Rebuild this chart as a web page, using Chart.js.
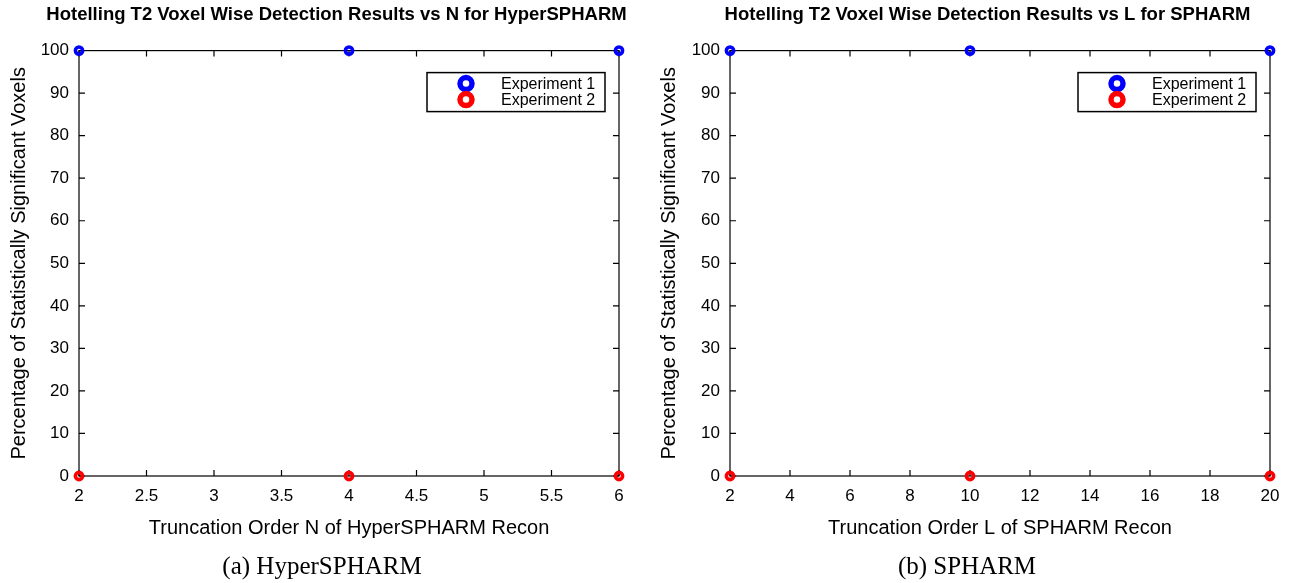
<!DOCTYPE html>
<html>
<head>
<meta charset="utf-8">
<script src="https://cdn.jsdelivr.net/npm/chart.js@4.4.1/dist/chart.umd.min.js"></script>
<style>
  html, body { margin: 0; padding: 0; background: #fff; }
  #wrap { position: relative; width: 1291px; height: 583px; overflow: hidden; }
  .box { position: absolute; top: 0; height: 583px; }
  .caption { position: absolute; top: 552px; font-family: "Liberation Serif", serif; font-size: 25px; color: #000; transform: translateX(-50%); white-space: nowrap; }
</style>
</head>
<body>
<div id="wrap">
  <div class="box" style="left:645px;width:685px"><canvas id="chartL"></canvas></div>
  <div class="box" style="left:0;width:673px"><canvas id="chartN"></canvas></div>
  <div class="caption" style="left:322px">(a) HyperSPHARM</div>
  <div class="caption" style="left:967px">(b) SPHARM</div>
</div>
<script>
// data
const nOrders = [2, 4, 6];
const lOrders = [2, 10, 20];
const hyperExp1 = [100, 100, 100];
const hyperExp2 = [0, 0, 0];
const spharmExp1 = [100, 100, 100];
const spharmExp2 = [0, 0, 0];

const nTicks = [2, 2.5, 3, 3.5, 4, 4.5, 5, 5.5, 6];
const lTicks = [2, 4, 6, 8, 10, 12, 14, 16, 18, 20];
const pctTicks = [0, 10, 20, 30, 40, 50, 60, 70, 80, 90, 100];

const seriesNames = ['Experiment 1', 'Experiment 2'];
const seriesColors = ['#0000ff', '#ff0000'];

Chart.defaults.font.family = '"Liberation Sans", Arial, sans-serif';
Chart.defaults.color = '#000';

// matlab style box with inward ticks on the four sides
const boxTicks = {
  id: 'boxTicks',
  beforeDatasetsDraw(chart) {
    const {ctx, chartArea: a, scales} = chart;
    const len = 6;
    ctx.save();
    ctx.strokeStyle = '#000';
    ctx.lineWidth = 1.2;
    ctx.beginPath();
    scales.x.ticks.forEach(t => {
      const px = scales.x.getPixelForValue(t.value);
      ctx.moveTo(px, a.bottom); ctx.lineTo(px, a.bottom - len);
      ctx.moveTo(px, a.top); ctx.lineTo(px, a.top + len);
    });
    scales.y.ticks.forEach(t => {
      const py = scales.y.getPixelForValue(t.value);
      ctx.moveTo(a.left, py); ctx.lineTo(a.left + len, py);
      ctx.moveTo(a.right, py); ctx.lineTo(a.right - len, py);
    });
    ctx.stroke();
    ctx.strokeRect(a.left, a.top, a.right - a.left, a.bottom - a.top);
    ctx.restore();
  }
};

// boxed legend in the top right corner, built from the datasets
const boxLegend = {
  id: 'boxLegend',
  afterDatasetsDraw(chart) {
    const {ctx, chartArea: a} = chart;
    const w = 178, h = 39;
    const left = a.right - 14 - w, top = a.top + 22;
    ctx.save();
    ctx.fillStyle = '#fff';
    ctx.fillRect(left, top, w, h);
    ctx.strokeStyle = '#000';
    ctx.lineWidth = 1.5;
    ctx.strokeRect(left, top, w, h);
    ctx.font = '16px "Liberation Sans", Arial, sans-serif';
    ctx.textBaseline = 'middle';
    chart.data.datasets.forEach((ds, i) => {
      const cy = top + 11 + i * 16;
      ctx.beginPath();
      ctx.arc(left + 39, cy, 6, 0, Math.PI * 2);
      ctx.strokeStyle = ds.borderColor;
      ctx.lineWidth = 5.5;
      ctx.stroke();
      ctx.fillStyle = '#000';
      ctx.fillText(ds.label, left + 74, cy + 1);
    });
    ctx.restore();
  }
};

function makeChart(id, xs, s1, s2, xTicks, title, xTitle, pad) {
  const datasets = [s1, s2].map((vals, i) => ({
    label: seriesNames[i],
    data: xs.map((x, j) => ({x: x, y: vals[j]})),
    borderColor: seriesColors[i],
    backgroundColor: 'rgba(0,0,0,0)',
    pointRadius: 3.6,
    pointBorderWidth: 3.6,
    pointHoverRadius: 3.6,
    showLine: false,
    clip: false
  }));
  return new Chart(document.getElementById(id), {
    type: 'scatter',
    data: {datasets: datasets},
    options: {
      responsive: false,
      animation: false,
      events: [],
      layout: {padding: {left: 0, right: 0, top: 0, bottom: 43}},
      plugins: {
        legend: {display: false},
        tooltip: {enabled: false},
        title: {
          display: true,
          text: title,
          font: {size: 18.5, weight: 'bold'},
          padding: {top: 4, bottom: 24.4}
        }
      },
      scales: {
        x: {
          type: 'linear',
          min: xTicks[0],
          max: xTicks[xTicks.length - 1],
          grid: {display: false, drawTicks: false},
          border: {display: false},
          afterBuildTicks: s => { s.ticks = xTicks.map(v => ({value: v})); },
          afterFit: s => { s.height = 64; },
          ticks: {font: {size: 17}, padding: 10, maxRotation: 0, autoSkip: false, callback: v => String(v)},
          title: {display: true, text: xTitle, font: {size: 20}, padding: {top: 0, bottom: 0}}
        },
        y: {
          type: 'linear',
          min: 0,
          max: 100,
          grid: {display: false, drawTicks: false},
          border: {display: false},
          afterBuildTicks: s => { s.ticks = pctTicks.map(v => ({value: v})); },
          afterFit: s => { s.width = pad.yWidth; },
          ticks: {font: {size: 17}, padding: 10, autoSkip: false, callback: v => String(v)},
          title: {
            display: true,
            text: 'Percentage of Statistically Significant Voxels',
            font: {size: 20},
            padding: {top: pad.yTitle, bottom: 0}
          }
        },
        // empty right margin so the title sits where matlab put it
        yRight: {
          type: 'linear',
          position: 'right',
          grid: {display: false, drawTicks: false},
          border: {display: false},
          ticks: {display: false},
          afterFit: s => { s.width = pad.right; }
        }
      }
    },
    plugins: [boxTicks, boxLegend]
  });
}

function sizeCanvas(id, w, h) {
  const c = document.getElementById(id);
  c.width = w; c.height = h;
  c.style.width = w + 'px'; c.style.height = h + 'px';
}
sizeCanvas('chartN', 673, 583);
sizeCanvas('chartL', 685, 583);

makeChart('chartN', nOrders, hyperExp1, hyperExp2, nTicks,
  'Hotelling T2 Voxel Wise Detection Results vs N for HyperSPHARM',
  'Truncation Order N of HyperSPHARM Recon',
  {right: 54, yWidth: 79, yTitle: 7});
makeChart('chartL', lOrders, spharmExp1, spharmExp2, lTicks,
  'Hotelling T2 Voxel Wise Detection Results vs L for SPHARM',
  'Truncation Order L of SPHARM Recon',
  {right: 60, yWidth: 85, yTitle: 12});
</script>
</body>
</html>
